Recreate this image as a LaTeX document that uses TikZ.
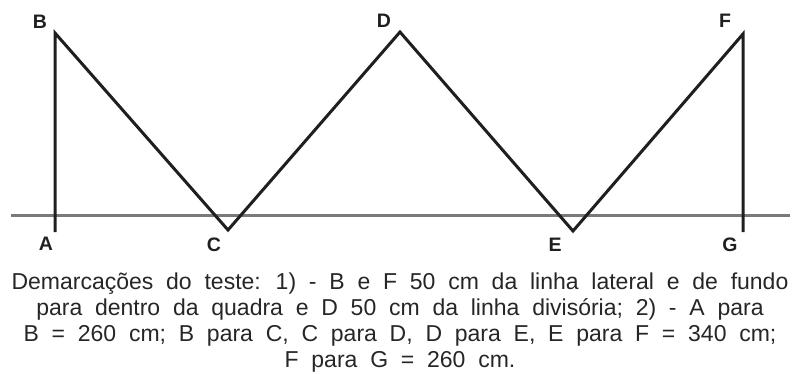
\documentclass[tikz,border=0pt]{standalone}
\usepackage{fontspec}
\setmainfont{Liberation Sans}
\newfontfamily\capfont[WordSpace=2.0]{Liberation Sans}
\begin{document}
\begin{tikzpicture}[x=1pt,y=-1pt,
  zig/.style={line width=3pt,draw=black!88,line join=miter},
  floor/.style={line width=3pt,draw=black!52},
  lbl/.style={font=\fontsize{19.5}{22}\selectfont\bfseries,text=black!88,inner sep=0pt},
  captext/.style={font=\capfont\fontsize{23}{26}\selectfont,text=black!85,align=center,inner sep=0pt}]
\useasboundingbox (0,0) rectangle (793,373);
\coordinate (fl) at (11,215);
\coordinate (fr) at (790,215);
\draw[floor] (fl) -- (fr);
\coordinate (A) at (55,232);
\coordinate (B) at (55,33);
\coordinate (C) at (228,230);
\coordinate (D) at (400,32);
\coordinate (E) at (573,231);
\coordinate (F) at (743,34);
\coordinate (G) at (743,232);
\draw[zig] (A) -- (B) -- (C) -- (D) -- (E) -- (F) -- (G);
\node[lbl] (lB) at (40,22) {B};
\node[lbl] (lD) at (384,21) {D};
\node[lbl] (lF) at (725,21) {F};
\node[lbl] (lA) at (46,244) {A};
\node[lbl] (lC) at (214,245) {C};
\node[lbl] (lE) at (555,245) {E};
\node[lbl] (lG) at (730,245) {G};
\node[captext,anchor=north] (txt) at (400,272.5) {Demarcações do teste: 1) - B e F 50 cm da linha lateral e de fundo\\para dentro da quadra e D 50 cm da linha divisória; 2) - A para\\B = 260 cm; B para C, C para D, D para E, E para F = 340 cm;\\F para G = 260 cm.};
\end{tikzpicture}
\end{document}
